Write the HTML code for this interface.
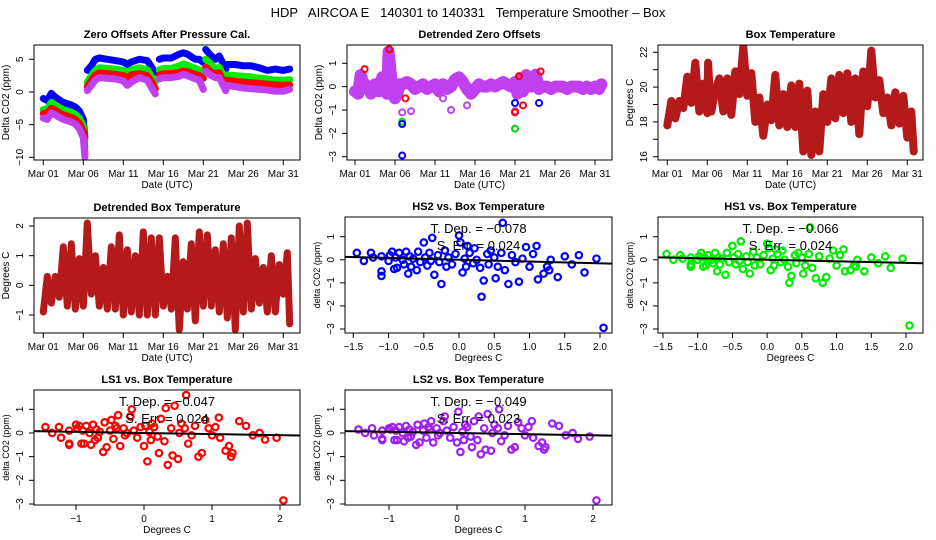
<!DOCTYPE html>
<html><head><meta charset="utf-8"><style>
html,body{margin:0;padding:0;background:#fff;}
svg{display:block;font-family:"Liberation Sans",sans-serif;}
</style></head><body>
<svg id="chart" width="936" height="540" viewBox="0 0 936 540">
<rect width="936" height="540" fill="#fff"/>
<text x="468" y="17" text-anchor="middle" font-size="13" style="white-space:pre" xml:space="preserve">HDP   AIRCOA E   140301 to 140331   Temperature Smoother – Box</text>
</svg>
<script>
// ---- time series data (days since Mar 01) ----
const zeroT = [0,0.5,1,1.5,2,2.5,3,3.5,4,4.5,5,5.2,null,5.5,6,6.5,7,8,9,10,10.5,11,12,13,13.7,14,null,14.5,15,16,17,17.5,18,19,19.5,20,null,20.3,21,21.5,22,22.8,23,24,25,26,27,28,29,30,30.8];
const zeroBlue = [-1.0,-1.3,-0.2,-0.8,-1.2,-1.6,-1.8,-2.0,-2.3,-2.9,-4.2,-7.0,null,3.3,4.0,5.0,5.2,5.0,4.8,4.6,4.2,4.6,5.0,4.8,3.5,3.0,null,5.0,5.2,5.2,5.8,6.0,5.8,5.0,5.0,4.5,null,6.5,5.5,5.0,5.5,3.5,4.2,4.2,4.0,4.0,3.7,3.3,3.5,3.3,3.5];
const zeroGreen = [-2.7,-2.6,-1.6,-2.0,-2.4,-2.7,-2.9,-3.1,-3.4,-4.0,-5.2,-8.5,null,1.5,2.5,3.3,3.7,3.6,3.5,3.3,3.0,3.4,3.7,3.4,2.0,1.5,null,3.4,3.6,3.6,4.0,4.3,4.1,3.6,3.4,3.0,null,5.0,4.2,3.5,3.8,1.6,2.6,2.5,2.4,2.3,2.1,2.0,1.8,1.8,1.9];
const zeroRed = [-3.3,-3.2,-2.5,-2.8,-3.2,-3.5,-3.7,-3.9,-4.2,-4.8,-6.0,-9.5,null,0.8,1.8,2.6,2.9,2.8,2.7,2.5,2.1,2.6,2.8,2.5,1.2,0.5,null,2.6,2.8,2.8,3.0,3.2,3.1,2.7,2.5,2.1,null,3.8,3.0,2.8,2.9,0.8,1.8,1.6,1.5,1.4,1.3,1.2,1.1,1.0,1.1];
const zeroMag = [-4.0,-4.2,-3.2,-3.5,-3.9,-4.2,-4.4,-4.6,-4.9,-5.6,-7.0,-10.0,null,0.2,1.0,1.8,2.2,2.1,2.0,1.7,1.0,1.5,2.2,1.8,0.3,-0.3,null,2.0,2.2,2.2,2.4,2.7,2.5,2.0,1.8,0.4,null,3.2,2.5,2.2,2.2,0.2,1.0,0.8,0.6,0.5,0.4,0.3,0.1,0.1,0.4];

const detT = [0,0.4,0.7,1,1.5,2,2.5,3,3.4,3.7,4,4.2,4.4,4.6,4.8,5,5.3,5.6,6,6.5,7,7.5,8,8.5,9,9.5,10,10.5,11,11.5,12,12.5,13,13.5,14,14.5,15,15.5,16,16.5,17,17.5,18,18.5,19,19.5,20,20.3,20.6,21,21.4,21.8,22,22.3,22.6,23,23.5,24,24.5,25,25.5,26,26.5,27,27.5,28,28.5,29,29.5,30,30.5,30.8];
const detV = [-0.2,-0.3,0.5,0.2,0,-0.3,0.1,-0.2,0.4,0,-0.3,1.5,0.8,0.2,-0.4,-0.5,-0.3,0.1,0.1,0.2,0.1,-0.1,0,0.1,-0.1,0,0.1,-0.2,0.1,-0.1,0,0.3,0.4,0.2,-0.1,-0.3,-0.1,0.1,0,0,0.1,0,0.1,0.2,0.1,0,0.2,-0.3,0.3,-0.2,0.5,0.1,0,0.4,0.5,-0.1,0,0,-0.1,0,0,0,-0.1,0,0,0,-0.1,0,-0.1,0,-0.1,0.1];
const outT = [5.9,5.9,5.9,5.9,6.3,7,11,12,14,20,20,20,20,20.5,21,22.5,23,23.2,1.2,4.3];
const outV = [-2.95,-1.1,-1.5,-1.6,-0.5,-1.05,-0.5,-1.0,-0.8,-0.7,-1.05,-1.1,-1.8,0.45,-0.8,0.6,-0.7,0.65,0.75,1.6];
const outC = ['#0000ff','#c040f0','#00dd00','#0000ff','#ff0000','#c040f0','#c040f0','#c040f0','#c040f0','#0000ff','#c040f0','#ff0000','#00dd00','#ff0000','#ff0000','#c040f0','#0000ff','#ff0000','#ff0000','#ff0000'];

const boxT = [0,0.5,1,1.5,2,2.5,3,3.5,4,4.5,5,5.1,5.3,5.5,6,6.5,7,7.5,8,8.5,9,9.5,10,10.5,11,11.5,12,12.5,13,13.5,14,14.5,15,15.5,16,16.5,17,17.5,18,18.5,19,19.5,20,20.5,21,21.5,22,22.5,23,23.5,24,24.5,25,25.5,26,26.5,27,27.5,28,28.5,29,29.5,30,30.5,30.8];
const boxV = [17.8,19.2,18.2,19.2,18.8,20.6,19.1,21.4,18.6,20.2,18.5,21.4,19.7,18.6,19.8,20.5,18.6,20.5,18.4,20.9,19.6,22.3,19.5,20.8,18.0,19.4,17.2,19.0,18.1,20.7,17.8,19.6,17.7,20.1,17.7,20.2,16.3,19.8,16.1,18.6,16.3,19.6,18.0,20.5,18.2,20.7,18.5,20.8,18.0,20.5,17.3,20.9,18.9,22.1,19.4,20.4,18.5,19.4,17.8,19.7,17.9,19.5,17.1,18.6,16.3];

const dbT = [0,0.5,1,1.5,2,2.5,3,3.5,4,4.5,5,5.5,6,6.5,7,7.5,8,8.5,9,9.5,10,10.5,11,11.5,12,12.5,13,13.5,14,14.5,15,15.5,16,16.5,17,17.5,18,18.5,19,19.5,20,20.5,21,21.5,22,22.5,23,23.5,24,24.5,25,25.5,26,26.5,27,27.5,28,28.5,29,29.5,30,30.5,30.8];
const dbV = [-0.9,0.3,-0.6,0.3,-0.4,1.3,-0.7,1.4,-0.8,0.9,-0.7,2.1,-0.3,1.0,-0.7,0.6,-0.8,1.3,-0.8,1.7,-1.0,1.2,-0.9,1.0,-1.0,1.8,-1.0,1.6,-1.0,1.6,-0.7,0.3,-0.8,1.6,-1.5,0.8,-0.8,1.4,-1.2,1.8,-0.7,1.7,-0.7,1.2,-0.9,1.4,-1.1,1.6,-1.5,2.0,-0.9,2.1,-0.8,0.9,-0.6,0.6,-0.9,1.0,-0.9,0.7,-0.3,1.1,-1.3];

// ---- scatter data ----
const scX = [-1.45,-1.35,-1.25,-1.22,-1.1,-1.1,-1.1,-1.0,-0.98,-0.95,
 -0.92,-0.9,-0.88,-0.85,-0.8,-0.78,-0.75,-0.72,-0.7,-0.68,
 -0.65,-0.6,-0.58,-0.55,-0.5,-0.48,-0.45,-0.42,-0.4,-0.38,
 -0.35,-0.3,-0.28,-0.25,-0.2,-0.18,-0.15,-0.1,-0.05,0.0,
 0.02,0.05,0.08,0.1,0.12,0.15,0.2,0.22,0.25,0.3,
 0.32,0.35,0.4,0.42,0.45,0.5,0.52,0.55,0.6,0.62,
 0.65,0.7,0.75,0.8,0.85,0.9,0.95,1.0,1.05,1.1,
 1.12,1.2,1.25,1.28,1.3,1.4,1.5,1.6,1.7,1.78,
 1.95,2.05];
const hs2Y = [0.3,-0.05,0.3,0.1,-0.5,-0.7,0.15,-0.05,0.2,0.35,
 -0.4,0.1,-0.35,0.3,0.0,-0.2,0.35,-0.6,0.15,-0.3,
 0.05,-0.45,0.35,-0.1,0.75,0.1,-0.25,0.3,-0.05,0.95,
 -0.65,0.2,-0.1,-1.05,0.4,-0.3,0.1,-0.2,0.25,1.05,
 0.75,-0.55,0.05,-0.3,0.6,0.3,-0.15,0.5,0.0,-0.35,
 -1.6,-0.9,0.25,-0.2,0.4,0.1,-0.8,-0.3,0.3,1.6,
 -0.45,-1.05,0.2,-0.1,-0.95,0.05,0.55,-0.3,0.25,0.6,
 -0.85,-0.6,-0.3,-0.45,0.0,-0.75,0.15,-0.2,0.2,-0.55,
 0.05,-2.95];
const hs1Y = [0.25,0.0,0.2,0.05,-0.3,-0.2,0.1,0.0,0.15,0.3,
 -0.3,0.1,-0.25,0.2,0.0,-0.15,0.3,-0.5,0.1,-0.2,
 0.05,-0.65,0.3,-0.1,0.6,0.1,-0.2,0.25,-0.05,0.8,
 -0.4,0.15,-0.1,-0.6,0.35,-0.25,0.1,-0.2,0.2,0.7,
 0.5,-0.45,0.05,-0.25,0.45,0.25,-0.1,0.4,0.0,-0.3,
 -1.0,-0.7,0.2,-0.15,0.3,0.1,-0.6,-0.25,0.25,1.4,
 -0.35,-0.8,0.15,-1.0,-0.75,0.05,0.4,-0.25,0.2,0.45,
 -0.5,-0.45,-0.25,-0.3,0.0,-0.5,0.1,-0.15,0.15,-0.35,
 0.05,-2.85];
const ls1Y = [0.25,0.0,0.25,-0.2,-0.5,-0.45,0.1,0.35,0.2,0.3,
 -0.45,0.1,-0.45,0.3,0.0,-0.5,0.35,-0.3,0.15,-0.2,
 0.05,-0.8,0.45,-0.6,0.1,0.55,-0.25,0.3,0.2,0.75,
 -0.55,0.2,-0.1,0.0,0.7,1.0,0.1,-0.2,0.25,-0.55,
 0.3,-1.2,0.05,-0.3,0.4,0.25,-0.15,-0.85,0.6,-0.35,
 1.05,-1.35,0.2,-0.95,1.15,-1.1,0.0,0.4,0.2,1.6,
 -0.45,-0.1,0.3,-1.0,-0.85,0.55,0.2,-0.1,0.25,0.65,
 -0.2,-0.75,-0.55,-1.0,-0.85,0.5,0.3,-0.1,0.0,-0.28,
 -0.2,-2.85];
const ls2Y = [0.15,0.0,0.2,-0.1,-0.3,-0.25,0.1,0.2,0.15,0.25,
 -0.3,0.1,-0.3,0.25,0.0,-0.35,0.3,-0.2,0.15,-0.15,
 0.05,-0.5,0.35,-0.4,0.1,0.4,-0.2,0.25,0.15,0.5,
 -0.4,0.2,-0.1,0.0,0.5,0.7,0.1,-0.2,0.25,-0.4,
 0.9,-0.8,0.05,-0.3,0.35,0.25,-0.15,-0.6,0.5,-0.3,
 0.7,-0.9,0.2,-0.7,0.8,-0.75,0.0,0.35,0.2,1.0,
 -0.35,-0.1,0.3,-0.7,-0.6,0.45,0.2,-0.1,0.25,0.5,
 -0.2,-0.55,-0.4,-0.7,-0.6,0.4,0.3,-0.1,0.0,-0.25,
 -0.15,-2.85];
const slopes = [-0.078,-0.066,-0.047,-0.049];
const intercepts = [0.0,0.0,0.0,0.0];
const errs = ["0.024","0.024","0.024","0.023"];
const dateTicks = [0,5,10,15,20,25,30];
const dateLabels = ["Mar 01","Mar 06","Mar 11","Mar 16","Mar 21","Mar 26","Mar 31"];

const NS = "http://www.w3.org/2000/svg";
const svg = document.getElementById('chart');
function mk(tag, attrs, parent){
  const e = document.createElementNS(NS, tag);
  for (const k in attrs) e.setAttribute(k, attrs[k]);
  (parent || svg).appendChild(e);
  return e;
}
function lin(d0,p0,d1,p1){ return v => p0 + (v-d0)*(p1-p0)/(d1-d0); }
function fmt(v){ return (v<0?"\u2212":"") + Math.abs(v); }

function panel(name, box, sx, sy, title, xTicks, xLabels, yTicks, yLabelSet, xTitle, yTitle, ySmall){
  const g = mk('g', {});
  
  
  const [x0,y0,x1,y1] = box;
  const clip = mk('clipPath', {id: name+'-clip'}, g);
  mk('rect', {x:x0, y:y0, width:x1-x0, height:y1-y0}, clip);
  const plot = mk('g', {'clip-path':'url(#'+name+'-clip)'}, g);
  
  
  const fr = mk('rect', {x:x0, y:y0, width:x1-x0, height:y1-y0, fill:'none', stroke:'#000', 'stroke-width':1}, g);
  
  
  const t = mk('text', {x:(x0+x1)/2, y:y0-7, 'text-anchor':'middle', 'font-size':11, 'font-weight':'bold'}, g);
  
  
  t.textContent = title;
  const xa = mk('g', {}, g);
  
  
  const xp = xTicks.map(sx);
  mk('line', {x1:xp[0], x2:xp[xp.length-1], y1:y1, y2:y1, stroke:'#000'}, xa);
  xTicks.forEach((v,i)=>{
    mk('line', {x1:xp[i], x2:xp[i], y1:y1, y2:y1+5, stroke:'#000'}, xa);
    const tl = mk('text', {x:xp[i], y:y1+17, 'text-anchor':'middle', 'font-size':10}, xa);
    
    
    tl.textContent = xLabels[i];
  });
  const xt = mk('text', {x:(x0+x1)/2, y:y1+28, 'text-anchor':'middle', 'font-size':10}, g);
  
  
  xt.textContent = xTitle;
  const ya = mk('g', {}, g);
  
  
  const yp = yTicks.map(sy);
  mk('line', {x1:x0, x2:x0, y1:yp[0], y2:yp[yp.length-1], stroke:'#000'}, ya);
  yTicks.forEach((v,i)=>{
    mk('line', {x1:x0-5, x2:x0, y1:yp[i], y2:yp[i], stroke:'#000'}, ya);
    if (yLabelSet.indexOf(v) >= 0){
      const lx = x0-11;
      const tl = mk('text', {x:lx, y:yp[i], 'text-anchor':'middle', 'font-size':10, transform:'rotate(-90 '+lx+' '+yp[i]+')'}, ya);
      
      
      tl.textContent = fmt(v);
    }
  });
  const tx = x0-25, ty = (y0+y1)/2;
  const yt = mk('text', {x:tx, y:ty, 'text-anchor':'middle', 'font-size': ySmall?9:10, transform:'rotate(-90 '+tx+' '+ty+')'}, g);
  
  
  yt.textContent = yTitle;
  return plot;
}

function band(parent, ts, vs, sx, sy, color, w, name){
  let d = '', pen = false;
  ts.forEach((t,i)=>{
    if (t === null || vs[i] === null){ pen = false; return; }
    d += (pen?'L':'M') + sx(t).toFixed(1) + ' ' + sy(vs[i]).toFixed(1);
    pen = true;
  });
  const p = mk('path', {d:d, fill:'none', stroke:color, 'stroke-width':w, 'stroke-linejoin':'round', 'stroke-linecap':'round'}, parent);
  
  
}

{
  const sx = lin(0,43.3,30,283.3), sy = lin(5,59.3,-10,157.3);
  const pl = panel('zero-offsets-panel',[34,45,300,160],sx,sy,'Zero Offsets After Pressure Cal.',dateTicks,dateLabels,[-10,-5,0,5],[-10,-5,0,5],'Date (UTC)','Delta CO2 (ppm)',false);
  band(pl, zeroT, zeroBlue, sx, sy, '#0000ff', 7, 'series-hs2');
  band(pl, zeroT, zeroGreen, sx, sy, '#00ee00', 7, 'series-hs1');
  band(pl, zeroT, zeroRed, sx, sy, '#ff0000', 7, 'series-ls1');
  band(pl, zeroT, zeroMag, sx, sy, '#c040f0', 7, 'series-ls2');
}
{
  const sx = lin(0,355,30,595), sy = lin(1,63.3,-3,156.7);
  const pl = panel('detrended-zero-panel',[347,45,612,160],sx,sy,'Detrended Zero Offsets',dateTicks,dateLabels,[-3,-2,-1,0,1],[-3,-2,-1,0,1],'Date (UTC)','Delta CO2 (ppm)',false);
  band(pl, detT, detV, sx, sy, '#c040f0', 12, 'detrended-band');
  outT.forEach((t,i)=>{
    const c = mk('circle', {cx:sx(t), cy:sy(outV[i]), r:3, fill:'none', stroke:outC[i], 'stroke-width':2}, pl);
    
    
  });
}
{
  const sx = lin(0,667.3,30,907.3), sy = lin(22,52.3,16,156.7);
  const pl = panel('box-temperature-panel',[658,45,923,160],sx,sy,'Box Temperature',dateTicks,dateLabels,[16,17,18,19,20,21,22],[16,18,20,22],'Date (UTC)','Degrees C',false);
  band(pl, boxT, boxV, sx, sy, '#b41a1a', 8, 'box-temp-series');
}
{
  const sx = lin(0,43.3,30,283.3), sy = lin(2,226,-1,315);
  const pl = panel('detrended-box-temp-panel',[34,218,300,333],sx,sy,'Detrended Box Temperature',dateTicks,dateLabels,[-1,0,1,2],[-1,0,1,2],'Date (UTC)','Degrees C',false);
  band(pl, dbT, dbV, sx, sy, '#b41a1a', 7, 'detrended-box-temp-series');
}
function scatter(name, box, sx, sy, title, xTicks, xLabels, ys, color, k){
  const [x0,y0,x1,y1] = box;
  const pl = panel(name, box, sx, sy, title, xTicks, xLabels, [-3,-2,-1,0,1], [-3,-2,-1,0,1], 'Degrees C', 'delta CO2 (ppm)', true);
  scX.forEach((x,i)=>{
    const c = mk('circle', {cx:sx(x), cy:sy(ys[i]), r:3.2, fill:'none', stroke:color, 'stroke-width':2.2}, pl);
    
    
  });
  const xa = -2, xb = 2.5;
  const ln = mk('line', {x1:sx(xa), y1:sy(intercepts[k]+slopes[k]*xa), x2:sx(xb), y2:sy(intercepts[k]+slopes[k]*xb), stroke:'#000', 'stroke-width':2}, pl);
  
  
  const cx = (x0+x1)/2;
  const a = mk('text', {x:cx, y:y0+16, 'text-anchor':'middle', 'font-size':13}, svg);
  
  
  a.textContent = 'T. Dep. = ' + fmt(slopes[k]);
  const b = mk('text', {x:cx, y:y0+33, 'text-anchor':'middle', 'font-size':13}, svg);
  
  
  b.textContent = 'S. Err. = ' + errs[k];
}
const halfTicks = [-1.5,-1.0,-0.5,0,0.5,1.0,1.5,2.0];
const halfLabels = ["\u22121.5","\u22121.0","\u22120.5","0.0","0.5","1.0","1.5","2.0"];
scatter('hs2-scatter-panel',[345,217,612,333], lin(-1.5,353.3,2.0,600), lin(1,236.7,-3,329), 'HS2 vs. Box Temperature', halfTicks, halfLabels, hs2Y, '#0000ff', 0);
scatter('hs1-scatter-panel',[658,217,923,333], lin(-1.5,663,2.0,906), lin(1,236.7,-3,329), 'HS1 vs. Box Temperature', halfTicks, halfLabels, hs1Y, '#00ee00', 1);
scatter('ls1-scatter-panel',[34,390,300,505], lin(0,144,1,212), lin(1,409.3,-3,504), 'LS1 vs. Box Temperature', [-1,0,1,2], ["\u22121","0","1","2"], ls1Y, '#ff0000', 2);
scatter('ls2-scatter-panel',[345,390,612,505], lin(0,457,1,525), lin(1,409.3,-3,504), 'LS2 vs. Box Temperature', [-1,0,1,2], ["\u22121","0","1","2"], ls2Y, '#a020f0', 3);
</script>
</body></html>
